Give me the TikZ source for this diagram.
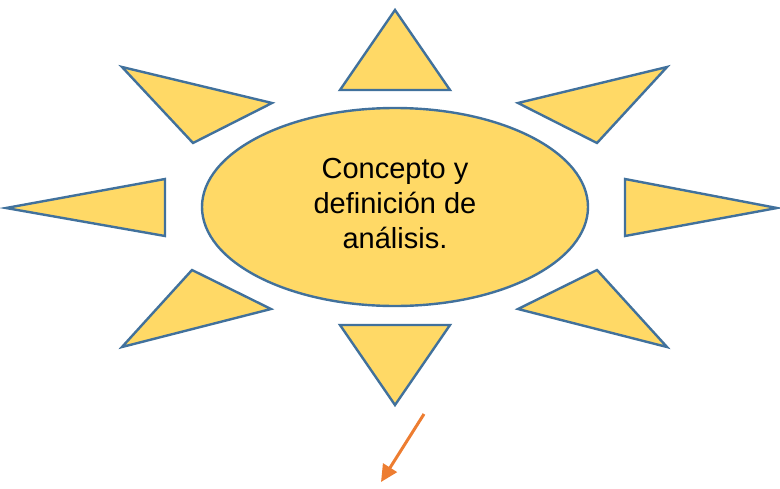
\documentclass[tikz,border=0pt]{standalone}
\usepackage{fontspec}
\setmainfont{Liberation Sans}
\usetikzlibrary{arrows.meta}
\definecolor{sunfill}{HTML}{FFD966}
\definecolor{sunline}{HTML}{41719C}
\definecolor{arrowc}{HTML}{ED7D31}
\tikzset{
  ray/.style={draw=sunline, fill=sunfill, line width=2.4pt, line join=miter},
  arr/.style={draw=arrowc, line width=3pt, -{Triangle[length=17pt,width=16pt]}}
}
\begin{document}
\begin{tikzpicture}[x=1pt,y=-1pt]
\useasboundingbox (0,0) rectangle (780,488);
% rays
\draw[ray] (395,10) -- (450,90) -- (340,90) -- cycle;
\draw[ray] (122,67) -- (272,103) -- (193,143) -- cycle;
\draw[ray] (667,67) -- (518,103) -- (597,143) -- cycle;
\draw[ray] (6,208) -- (165,179) -- (165,236) -- cycle;
\draw[ray] (777,208) -- (625,179) -- (625,236) -- cycle;
\draw[ray] (122,347) -- (271,309) -- (192,270) -- cycle;
\draw[ray] (667,347) -- (518,309) -- (597,270) -- cycle;
\draw[ray] (340,325) -- (450,325) -- (395,405) -- cycle;
% center ellipse
\draw[ray] (395,207) ellipse [x radius=193, y radius=99];
\node[align=center, font=\fontsize{29}{35}\selectfont] (c) at (395,204)
  {Concepto y\\definición de\\análisis.};
% arrow
\coordinate (a1) at (424,414);
\coordinate (a2) at (381,482);
\draw[arr] (a1) -- (a2);
\end{tikzpicture}
\end{document}
